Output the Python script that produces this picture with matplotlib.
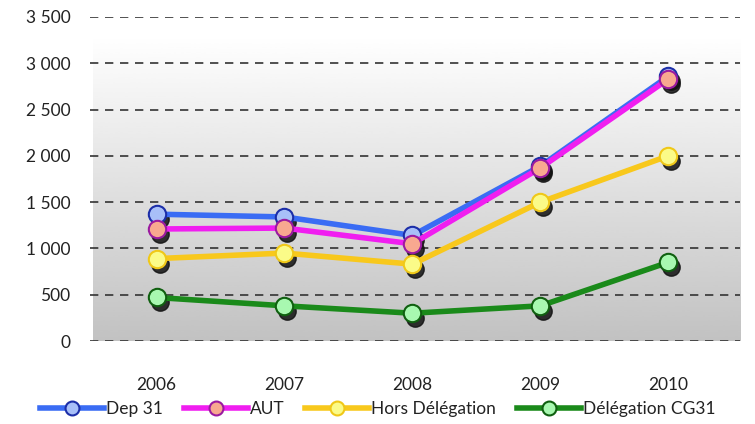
import matplotlib
matplotlib.use("Agg")
import matplotlib.pyplot as plt
import matplotlib.transforms as mtransforms
import numpy as np
from matplotlib.lines import Line2D

years = ["2006", "2007", "2008", "2009", "2010"]
dep31 = [1370, 1340, 1140, 1890, 2860]
aut = [1210, 1220, 1050, 1870, 2830]
hors = [890, 950, 830, 1500, 2000]
cg31 = [470, 380, 300, 380, 850]

names = ["Dep 31", "AUT", "Hors Délégation", "Délégation CG31"]
line_colors = ["#3a6cf4", "#f01ef0", "#f8c81c", "#1a8a1a"]
face_colors = ["#a8bff8", "#f8a890", "#fbfb88", "#a8f8b0"]
edge_colors = ["#1c2ea8", "#9a1aa0", "#f0c818", "#106010"]
series = [dep31, aut, hors, cg31]

plt.rcParams['font.family'] = ['Lato', 'DejaVu Sans']

fig = plt.figure(figsize=(7.55, 4.24), dpi=100)
ax = fig.add_axes([90/755, 1-341/424, 650/755, (341-17)/424])

x = np.arange(len(years))
ax.set_xlim(-0.52, 4.56)
ax.set_ylim(0, 3500)

# gradient background
grad = np.linspace(0.76, 1.0, 256).reshape(-1, 1)
ax.imshow(grad, extent=[-0.5, 4.56, 0, 3300], origin='lower',
          cmap='gray', vmin=0, vmax=1, aspect='auto', zorder=0, interpolation='bicubic')

for yv in range(0, 3501, 500):
    ax.axhline(yv, color='#333333', lw=1.2, ls=(0, (5, 4)), zorder=1)

shadow = mtransforms.offset_copy(ax.transData, fig=fig, x=3, y=-5, units='dots')
for vals in series:
    ax.plot(x, vals, ls='none', marker='o', ms=12.5, mfc='#111111', mec='#111111',
            alpha=0.85, transform=shadow, zorder=2)
for i, (vals, lc, fc, ec) in enumerate(zip(series, line_colors, face_colors, edge_colors)):
    ax.plot(x, vals, color=lc, lw=4, zorder=3 + i * 0.1)
    ax.plot(x, vals, ls='none', marker='o', ms=12.5, mfc=fc, mec=ec, mew=1.5,
            zorder=3.05 + i * 0.1)

ax.set_yticks(range(0, 3501, 500))
ax.set_yticklabels([f"{v:,}".replace(",", " ") for v in range(0, 3501, 500)])
ax.set_xticks(x)
ax.set_xticklabels(years)
ax.tick_params(length=0, labelsize=12.5, colors='#222222')
ax.tick_params(axis='y', pad=14)
ax.tick_params(axis='x', pad=26)
for s in ax.spines.values():
    s.set_visible(False)

handles = [Line2D([], [], color=lc, lw=4, marker='o', ms=10, mfc=fc, mec=ec, mew=1.5)
           for lc, fc, ec in zip(line_colors, face_colors, edge_colors)]
fig.legend(handles, names, loc='lower center', bbox_to_anchor=(0.5, -0.02), ncol=4,
           frameon=False, fontsize=12.5, handlelength=3.7, handletextpad=0.1,
           columnspacing=1.2, labelcolor='#222222')

fig.savefig("out.png", dpi=100)
